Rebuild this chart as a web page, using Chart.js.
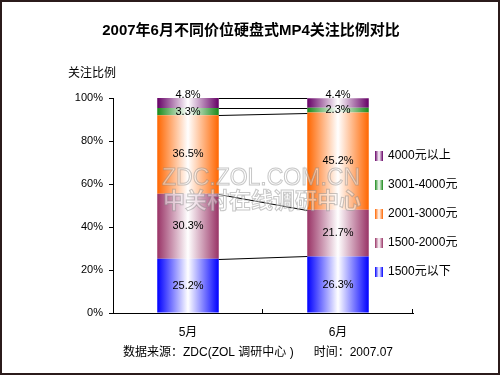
<!DOCTYPE html>
<html>
<head>
<meta charset="utf-8">
<script src="https://cdn.jsdelivr.net/npm/chart.js@4/dist/chart.umd.min.js"></script>
<style>
  html, body { margin: 0; padding: 0; background: #fff; }
  canvas { display: block; }
</style>
</head>
<body>
<canvas id="c" width="500" height="375"></canvas>
<script>
// data
const months = ['5月', '6月'];
const seriesNames = ['1500元以下', '1500-2000元', '2001-3000元', '3001-4000元', '4000元以上'];
const below1500 = [25.2, 26.3];
const from1500to2000 = [30.3, 21.7];
const from2001to3000 = [36.5, 45.2];
const from3001to4000 = [3.3, 2.3];
const above4000 = [4.8, 4.4];
const yTicks = [0, 20, 40, 60, 80, 100];

const seriesValues = [below1500, from1500to2000, from2001to3000, from3001to4000, above4000];
const seriesColors = ['#0000ff', '#993366', '#ff6600', '#1a8a1a', '#660066'];

const CAT_PCT = 0.41;
const FONT = '"Liberation Sans", Arial, "Noto Sans CJK SC", sans-serif';

function barGradient(ctx2d, x0, x1, color) {
  const g = ctx2d.createLinearGradient(x0, 0, x1, 0);
  g.addColorStop(0, color);
  g.addColorStop(0.5, '#ffffff');
  g.addColorStop(1, color);
  return g;
}

function barFill(color) {
  return ctx => {
    const chart = ctx.chart;
    if (!chart.chartArea || ctx.dataIndex === undefined) return color;
    const xs = chart.scales.x;
    const cx = xs.getPixelForValue(ctx.dataIndex);
    const half = xs.width / months.length * CAT_PCT / 2;
    return barGradient(chart.ctx, cx - half, cx + half, color);
  };
}

// border, titles, legend, footer
const decor = {
  id: 'decor',
  beforeDraw(chart) {
    const c = chart.ctx;
    c.save();
    c.fillStyle = '#fff';
    c.fillRect(0, 0, chart.width, chart.height);
    c.restore();
  },
  afterDraw(chart) {
    const c = chart.ctx;
    c.save();
    c.strokeStyle = '#2b1b1b';
    c.lineWidth = 2;
    c.strokeRect(1, 1, chart.width - 2, chart.height - 2);

    c.fillStyle = '#000';
    c.textBaseline = 'middle';
    c.textAlign = 'center';
    c.font = 'bold 15px ' + FONT;
    c.fillText('2007年6月不同价位硬盘式MP4关注比例对比', 251, 31);

    c.textAlign = 'left';
    c.font = '12px ' + FONT;
    c.fillText('关注比例', 68, 74);

    c.textAlign = 'center';
    c.fillText('数据来源：ZDC(ZOL 调研中心 )      时间：2007.07', 258, 353);

    // legend, reversed order
    c.textAlign = 'left';
    for (let i = 0; i < seriesNames.length; i++) {
      const k = seriesNames.length - 1 - i;
      const y = 156 + i * 29;
      c.fillStyle = barGradient(c, 375, 383, seriesColors[k]);
      c.fillRect(375, y - 5, 8, 10);
      c.fillStyle = '#000';
      c.fillText(seriesNames[k], 388, y);
    }
    c.restore();
  },
  afterDatasetsDraw(chart) {
    const c = chart.ctx;
    const xs = chart.scales.x, ys = chart.scales.y;
    const half = xs.width / months.length * CAT_PCT / 2;
    c.save();

    // series lines between the two bars
    c.strokeStyle = '#000';
    c.lineWidth = 1;
    const x1 = xs.getPixelForValue(0) + half;
    const x2 = xs.getPixelForValue(1) - half;
    let cumA = 0, cumB = 0;
    for (let k = 0; k < seriesValues.length; k++) {
      cumA += seriesValues[k][0];
      cumB += seriesValues[k][1];
      c.beginPath();
      c.moveTo(x1, Math.round(ys.getPixelForValue(Math.min(cumA, 100))) + 0.5);
      c.lineTo(x2, Math.round(ys.getPixelForValue(Math.min(cumB, 100))) + 0.5);
      c.stroke();
    }

    // inside ticks on the category axis
    const bottom = chart.chartArea.bottom;
    for (let i = 1; i <= months.length; i++) {
      const x = Math.round(xs.left + i * xs.width / months.length) - 0.5;
      c.beginPath();
      c.moveTo(x, bottom);
      c.lineTo(x, bottom - 4);
      c.stroke();
    }

    // watermark
    c.textAlign = 'center';
    c.textBaseline = 'middle';
    c.lineWidth = 1;
    c.font = '23px ' + FONT;
    c.fillStyle = 'rgba(255,255,255,0.45)';
    c.strokeStyle = 'rgba(130,130,130,0.45)';
    c.fillText('ZDC.ZOL.COM.CN', 261, 179);
    c.strokeText('ZDC.ZOL.COM.CN', 261, 179);
    c.font = 'bold 22px "Noto Sans CJK SC", sans-serif';
    c.fillText('中关村在线调研中心', 262, 200);
    c.strokeText('中关村在线调研中心', 262, 200);

    // value labels
    c.fillStyle = '#000';
    c.font = '11px ' + FONT;
    chart.data.datasets.forEach((ds, di) => {
      chart.getDatasetMeta(di).data.forEach((el, i) => {
        let y = (el.y + el.base) / 2;
        if (di === chart.data.datasets.length - 1) y -= 8;
        c.fillText(ds.data[i].toFixed(1) + '%', el.x, y);
      });
    });
    c.restore();
  }
};

new Chart(document.getElementById('c'), {
  type: 'bar',
  data: {
    labels: months,
    datasets: seriesNames.map((name, k) => ({
      label: name,
      data: seriesValues[k],
      backgroundColor: barFill(seriesColors[k]),
      borderWidth: 0,
      categoryPercentage: CAT_PCT,
      barPercentage: 1
    }))
  },
  options: {
    responsive: false,
    animation: false,
    layout: { padding: { left: 0, right: 87, top: 98, bottom: 0 } },
    plugins: {
      legend: { display: false },
      title: { display: false },
      tooltip: { enabled: false }
    },
    scales: {
      x: {
        stacked: true,
        grid: { display: false },
        border: { color: '#000', width: 1 },
        ticks: { color: '#000', padding: 4, font: { family: FONT, size: 12 } },
        afterFit: s => { s.height = 62; }
      },
      y: {
        stacked: true,
        min: yTicks[0],
        max: yTicks[yTicks.length - 1],
        afterBuildTicks: s => { s.ticks = yTicks.map(v => ({ value: v })); },
        grid: { drawOnChartArea: false, color: '#000', tickLength: 4 },
        border: { color: '#000', width: 1 },
        ticks: { color: '#000', padding: 6, font: { family: FONT, size: 11 }, callback: v => v + '%' },
        afterFit: s => { s.width = 113; }
      }
    }
  },
  plugins: [decor]
});
</script>
</body>
</html>
